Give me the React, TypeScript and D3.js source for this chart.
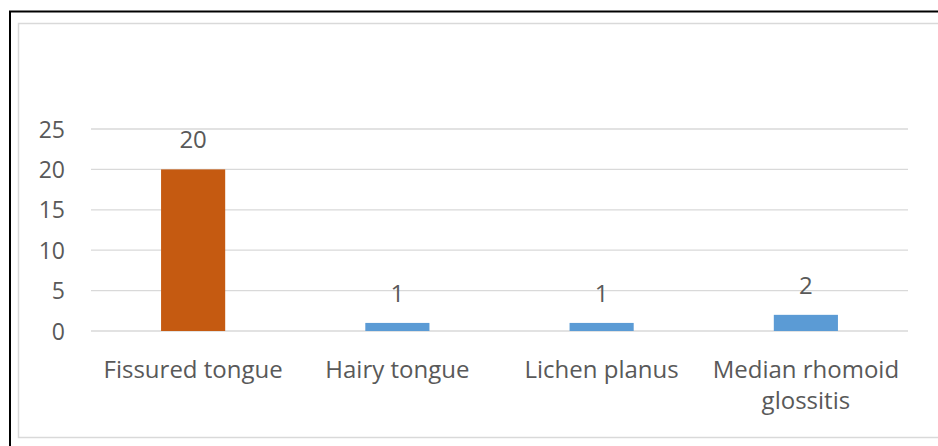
import React from "react";
import * as d3 from "d3";

const categories = ["Fissured tongue", "Hairy tongue", "Lichen planus", "Median rhomoid glossitis"];
const values = [20, 1, 1, 2];
const barColors = ["#C55A11", "#5B9BD5", "#5B9BD5", "#5B9BD5"];
const yTicks = [0, 5, 10, 15, 20, 25];

const W = 938;
const H = 446;
const plotLeft = 91;
const plotRight = 908;
const plotTop = 129;
const plotBottom = 331;
const FONT = "'Open Sans', 'Liberation Sans', sans-serif";
const TEXT = "#595959";

function wrapLabel(s: string): string[] {
  if (s === "Median rhomoid glossitis") return ["Median rhomoid", "glossitis"];
  return [s];
}

export default function App() {
  const x = d3.scaleBand<string>().domain(categories).range([plotLeft, plotRight]).paddingInner(0.686).paddingOuter(0.343);
  const y = d3.scaleLinear().domain([0, 25]).range([plotBottom, plotTop]);
  return (
    <svg width={W} height={H} style={{ position: "absolute", left: 0, top: 0, display: "block" }}>
      <rect x={0} y={0} width={W} height={H} fill="#fff" />
      <rect x={10} y={11.5} width={W + 10} height={H + 10} fill="none" stroke="#000" strokeWidth={2} />
      <rect x={18.5} y={23.5} width={W + 10} height={414} fill="none" stroke="#D9D9D9" strokeWidth={1.5} />
      {yTicks.map((t) => (
        <g key={t}>
          <line x1={plotLeft} x2={plotRight} y1={y(t)} y2={y(t)} stroke="#D9D9D9" strokeWidth={1.3} />
          <text x={65} y={y(t) + 8.5} textAnchor="end" fontFamily={FONT} fontSize={23} fill={TEXT}>
            {t}
          </text>
        </g>
      ))}
      {categories.map((c, i) => {
        const bx = x(c)!;
        const bw = x.bandwidth();
        const top = y(values[i]);
        const cx = bx + bw / 2;
        const lines = wrapLabel(c);
        return (
          <g key={c}>
            <rect x={bx} y={top} width={bw} height={plotBottom - top} fill={barColors[i]} />
            <text x={cx} y={top - 21} textAnchor="middle" fontFamily={FONT} fontSize={24} fill={TEXT}>
              {values[i]}
            </text>
            {lines.map((l, j) => (
              <text key={j} x={cx} y={378 + j * 31} textAnchor="middle" fontFamily={FONT} fontSize={24} fill={TEXT}>
                {l}
              </text>
            ))}
          </g>
        );
      })}
    </svg>
  );
}
